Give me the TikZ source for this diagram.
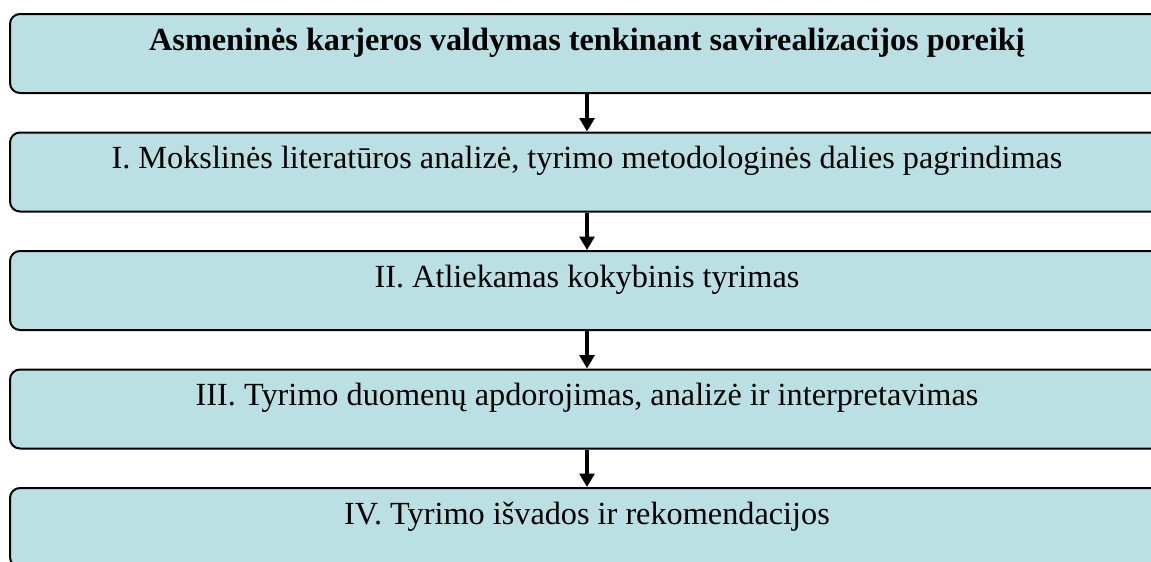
\documentclass[tikz,border=0pt]{standalone}
\usepackage{fontspec}
\setmainfont{Liberation Serif}
\usetikzlibrary{arrows.meta,positioning}

\definecolor{boxblue}{RGB}{187,224,227}

\begin{document}
\begin{tikzpicture}[x=0.75pt, y=-0.75pt,
    stagebox/.style={draw=black, line width=1.5pt, fill=boxblue, rounded corners=7.5pt,
                     minimum width=865.5pt, inner sep=0pt, text height=27pt, text depth=32.25pt,
                     font=\fontsize{24.2}{29}\selectfont},
    flowarrow/.style={line width=3.6pt, -{Triangle[width=11pt,length=10pt]}}]
  % Define dimensions
  \def\Left{9}
  \def\Top{13}
  \def\Step{118.5}
  \def\Ax{0}
  % page
  \useasboundingbox (0,0) rectangle (1151,561);
  \clip (0,0) rectangle (1151,561);

  % Draw boxes
  \foreach \i/\txt in {1/{\textbf{Asmeninės karjeros valdymas tenkinant savirealizacijos poreikį}},
                       2/{I. Mokslinės literatūros analizė, tyrimo metodologinės dalies pagrindimas},
                       3/{II. Atliekamas kokybinis tyrimas},
                       4/{III. Tyrimo duomenų apdorojimas, analizė ir interpretavimas},
                       5/{IV. Tyrimo išvados ir rekomendacijos}}
      \node[stagebox, anchor=north west] (b\i) at (\Left, \Top+\Step*\i-\Step) {\txt};

  % Draw arrows
  \foreach \i [evaluate=\i as \j using int(\i+1)] in {1,...,4}
      \draw[flowarrow] ([xshift=\Ax*0.75pt]b\i.south) -- ([xshift=\Ax*0.75pt]b\j.north);

\end{tikzpicture}
\end{document}
